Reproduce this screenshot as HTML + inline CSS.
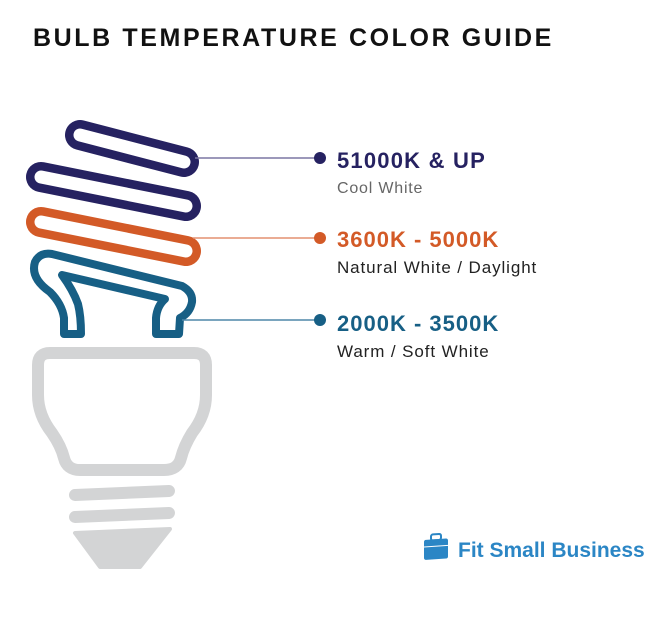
<!DOCTYPE html>
<html><head><style>
body{margin:0;width:666px;height:623px;background:#fff;overflow:hidden;font-family:"Liberation Sans",sans-serif}
.t{position:absolute;white-space:nowrap}
</style></head><body>
<div class="t" style="left:33px;top:24px;font-size:25px;font-weight:bold;letter-spacing:2.6px;color:#111">BULB TEMPERATURE COLOR GUIDE</div>
<svg width="666" height="623" style="position:absolute;left:0;top:0">
<g stroke-linecap="round" fill="none">
<line x1="80" y1="135" x2="184" y2="162" stroke="#262261" stroke-width="30"/>
<line x1="80" y1="135" x2="184" y2="162" stroke="#fff" stroke-width="13"/>
<line x1="41" y1="177" x2="186" y2="206" stroke="#262261" stroke-width="30"/>
<line x1="41" y1="177" x2="186" y2="206" stroke="#fff" stroke-width="13"/>
<line x1="41" y1="222" x2="186" y2="251" stroke="#d35a27" stroke-width="30"/>
<line x1="41" y1="222" x2="186" y2="251" stroke="#fff" stroke-width="13"/>
</g>
<path d="M35,262 Q40,252 52,254 L182,286 Q193,292 192,302 Q190,313 180,318 L179,334 L156,334 L156,318 Q157,306 165,299 L62,275 Q73,290 78,304 Q81,316 81,334 L64,334 L64,318 Q62,304 50,292 Q30,278 35,262 Z" fill="none" stroke="#175f85" stroke-width="8" stroke-linejoin="round"/>
<path d="M50,353 H194 Q206,353 206,365 V395 Q206,415 192,433 Q184,446 181,458 Q178,470 164,470 H80 Q67,470 64,458 Q61,446 52,433 Q38,415 38,395 V365 Q38,353 50,353 Z" fill="none" stroke="#d3d4d5" stroke-width="12"/>
<g stroke="#d3d4d5" stroke-width="12" stroke-linecap="round">
<line x1="75" y1="495" x2="169" y2="491"/>
<line x1="75" y1="517" x2="169" y2="513"/>
</g>
<polygon points="75,533 170,529 140,567 100,567" fill="#d3d4d5" stroke="#d3d4d5" stroke-width="4" stroke-linejoin="round"/>
<line x1="195" y1="158" x2="320" y2="158" stroke="#7b76a3" stroke-width="1.5"/>
<circle cx="320" cy="158" r="6" fill="#262261"/>
<line x1="193" y1="238" x2="320" y2="238" stroke="#e49070" stroke-width="1.5"/>
<circle cx="320" cy="238" r="6" fill="#d35a27"/>
<line x1="182" y1="320" x2="320" y2="320" stroke="#4f87a8" stroke-width="1.5"/>
<circle cx="320" cy="320" r="6" fill="#175f85"/>
<g transform="translate(424,540) skewY(-4)"><rect x="0" y="0" width="24" height="20" rx="2" fill="#2b86c5"/><rect x="7" y="-5" width="10" height="6" rx="2" fill="none" stroke="#2b86c5" stroke-width="2"/><line x1="0" y1="7" x2="24" y2="7" stroke="#fff" stroke-width="1"/></g>
</svg>
<div class="t" style="left:337px;top:148px;font-size:22px;font-weight:bold;color:#262261;letter-spacing:1.2px">51000K &amp; UP</div>
<div class="t" style="left:337px;top:180px;font-size:16px;color:#666;letter-spacing:0.8px">Cool White</div>
<div class="t" style="left:337px;top:227px;font-size:22px;font-weight:bold;color:#d35a27;letter-spacing:1px">3600K - 5000K</div>
<div class="t" style="left:337px;top:258px;font-size:17px;color:#222;letter-spacing:0.9px">Natural White / Daylight</div>
<div class="t" style="left:337px;top:311px;font-size:22px;font-weight:bold;color:#175f85;letter-spacing:1px">2000K - 3500K</div>
<div class="t" style="left:337px;top:342px;font-size:17px;color:#222;letter-spacing:0.9px">Warm / Soft White</div>
<div class="t" style="left:458px;top:539px;font-size:21px;font-weight:bold;color:#2b86c5">Fit Small Business</div>
</body></html>
